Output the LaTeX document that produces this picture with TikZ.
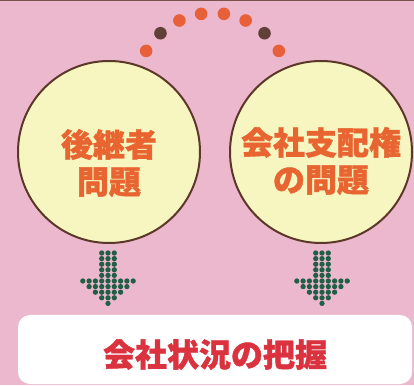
\documentclass[tikz,border=0pt]{standalone}
\usepackage{fontspec}
\newfontfamily\jpfont{Noto Sans CJK JP}[BoldFeatures={FakeBold=1.2}]
\definecolor{bgpink}{RGB}{236,184,206}
\definecolor{discfill}{RGB}{248,246,192}
\definecolor{discline}{RGB}{92,56,42}
\definecolor{disctext}{RGB}{232,100,48}
\definecolor{dotorange}{RGB}{232,96,58}
\definecolor{dotbrown}{RGB}{96,64,56}
\definecolor{arrowgreen}{RGB}{32,94,70}
\definecolor{resultred}{RGB}{218,50,62}
\begin{document}
\begin{tikzpicture}[x=1pt,y=1pt,
	disc/.style={circle,draw=discline,line width=2pt,fill=discfill,minimum size=182pt,inner sep=0pt},
	disclabel/.style={text=disctext,align=center,font=\jpfont\bfseries\fontsize{32}{37}\selectfont},
	resultbox/.style={fill=white,rounded corners=12pt,minimum width=394pt,minimum height=69pt},
	resultlabel/.style={text=resultred,font=\jpfont\bfseries\fontsize{32}{37}\selectfont}]
		\fill[bgpink] (0,0) rectangle (414,385);
		\useasboundingbox (0,0) rectangle (414,385);
		\fill[discline!80!bgpink] (0,383.5) rectangle (414,385);
		% the two themes
		\node[disc] (succ) at (109,233) {};
		\node[disc] (ctrl) at (321,233) {};
		\node[disclabel] (succtxt) at ([yshift=-11pt]succ.center) {後継者\\問題};
		\node[disclabel] (ctrltxt) at ([yshift=-9pt]ctrl.center) {会社支配権\\の問題};
		% dotted arc between them
		\foreach \a/\col in {149.5/dotorange,132.5/dotbrown,115.5/dotorange,98.5/dotorange,81.5/dotorange,64.5/dotorange,47.5/dotbrown,30.5/dotorange} \fill[\col] (212.5,295) ++(\a:77) circle (6.3);
		% dot arrows
		\foreach \cx in {108,322} {
			\foreach \r in {0,...,4} \foreach \c in {-1,0,1} \fill[arrowgreen] ({\cx+\c*6.3},{132-\r*5.6}) circle (2.65);
			\foreach \k in {0,...,4} {
				\pgfmathtruncatemacro\w{4-\k}
				\foreach \c in {-\w,...,\w} \fill[arrowgreen] ({\cx+\c*6.3},{132-(\k+5)*5.6}) circle (2.65);
			}
		}
		% result
		\node[resultbox] (resbox) at (215,35.5) {};
		\node[resultlabel] (result) at ([yshift=-5pt]resbox.center) {会社状況の把握};
\end{tikzpicture}
\end{document}
